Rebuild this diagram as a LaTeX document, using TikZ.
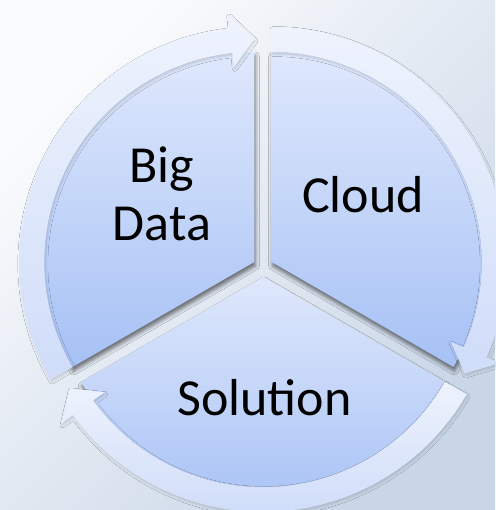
\documentclass[tikz,border=0pt]{standalone}
\usepackage{fontspec}
\setmainfont{Carlito}
\usetikzlibrary{shadows.blur}

\definecolor{bgLight}{HTML}{FAFBFD}
\definecolor{bgDark}{HTML}{C9D6E7}
\definecolor{segTop}{HTML}{DFE8FC}
\definecolor{segBot}{HTML}{A6C1F5}
\definecolor{arrTop}{HTML}{EEF3FD}
\definecolor{arrBot}{HTML}{D0DDF9}

% one clockwise ring arrow around the current origin:
% #1 = start angle (tail), #2 = end angle (tip)
\newcommand{\ringarrow}[2]{%
  \path[cyclearrow]
    (#1:235) arc[start angle=#1, end angle=#2+6, radius=235]
    -- (#2+6:249) -- (#2:223) -- (#2+6:196) -- (#2+6:210)
    arc[start angle=#2+6, end angle=#1, radius=210] -- cycle;}

\begin{document}
\begin{tikzpicture}[x=1pt,y=1pt,
  segment/.style={top color=segTop, bottom color=segBot,
    blur shadow={shadow xshift=1pt, shadow yshift=-4pt,
      shadow blur radius=4pt, shadow opacity=55}},
  cyclearrow/.style={top color=arrTop, bottom color=arrBot,
    blur shadow={shadow xshift=1pt, shadow yshift=-2pt,
      shadow blur radius=2.5pt, shadow opacity=15}},
  segtext/.style={font=\fontsize{52}{58}\selectfont, text=black,
    anchor=base, align=center, inner sep=0pt}]

\useasboundingbox (-263,-243) rectangle (232,267);
\shade[top color=bgLight, bottom color=bgDark, shading angle=45]
  (-263,-243) rectangle (232,267);

% three exploded pie segments
\begin{scope}[shift={(150:10)}]
  \path[segment] (0,0) -- (90:210) arc[start angle=90, end angle=210, radius=210] -- cycle;
\end{scope}
\begin{scope}[shift={(30:10)}]
  \path[segment] (0,0) -- (-30:210) arc[start angle=-30, end angle=90, radius=210] -- cycle;
\end{scope}
\begin{scope}[shift={(270:10)}]
  \path[segment] (0,0) -- (210:210) arc[start angle=210, end angle=330, radius=210] -- cycle;
\end{scope}

% outer cycle arrows, each following its segment
\begin{scope}[shift={(150:10)}]
  \ringarrow{210}{90}
\end{scope}
\begin{scope}[shift={(30:10)}]
  \ringarrow{90}{-30}
\end{scope}
\begin{scope}[shift={(270:10)}]
  \ringarrow{-30}{-150}
\end{scope}

% labels (base anchor sits on the last line)
\node[segtext] (bigdata) at (-101,26) {Big\\Data};
\node[segtext] (cloud) at (100,54) {Cloud};
\node[segtext] (solution) at (1.5,-148) {Solution};
\end{tikzpicture}
\end{document}
